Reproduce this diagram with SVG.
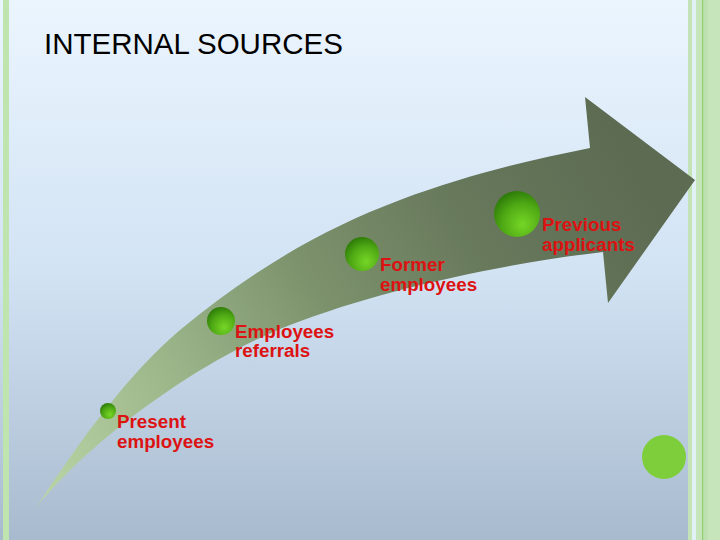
<svg xmlns="http://www.w3.org/2000/svg" width="720" height="540" viewBox="0 0 720 540">
  <defs>
    <linearGradient id="bg" x1="0" y1="0" x2="0" y2="1">
      <stop offset="0" stop-color="#ebf5fe"/>
      <stop offset="0.5" stop-color="#d2e3f4"/>
      <stop offset="1" stop-color="#a8bbce"/>
    </linearGradient>
    <linearGradient id="arrowGrad" gradientUnits="userSpaceOnUse" x1="40" y1="500" x2="640" y2="170">
      <stop offset="0" stop-color="#b9d4a5"/>
      <stop offset="0.25" stop-color="#9db78b"/>
      <stop offset="0.5" stop-color="#7c926c"/>
      <stop offset="0.75" stop-color="#67785b"/>
      <stop offset="1" stop-color="#5c6b52"/>
    </linearGradient>
    <radialGradient id="ball" cx="0.62" cy="0.72" r="0.75">
      <stop offset="0" stop-color="#76d626"/>
      <stop offset="0.6" stop-color="#4ea814"/>
      <stop offset="1" stop-color="#2c7a08"/>
    </radialGradient>
    <style>
      .lbl { font-family: "Liberation Sans", Arial, sans-serif; font-weight: bold; font-size: 18.8px; fill: #dd1212; }
      .title { font-family: "Liberation Sans", Arial, sans-serif; font-size: 29.5px; fill: #000000; }
      .ball { fill: url(#ball); }
    </style>
  </defs>

  <!-- background -->
  <rect x="0" y="0" width="720" height="540" fill="url(#bg)"/>
  <rect x="3" y="0" width="6" height="540" fill="#c0e4ae"/>
  <rect x="688" y="0" width="4" height="540" fill="#c4e4b8"/>
  <rect x="692" y="0" width="4" height="540" fill="#e2f1f6"/>
  <rect x="696" y="0" width="24" height="540" fill="#c6e5bb"/>
  <rect x="702" y="0" width="1.5" height="540" fill="#8fcf6f"/>
  <rect x="703.5" y="0" width="4" height="540" fill="#bde0b0"/>

  <text class="title" x="44" y="54">INTERNAL SOURCES</text>

  <g id="connectors">
    <path id="arrow" fill="url(#arrowGrad)" d="M36,508 C80,440 130,372 180,330 C250,272 320,230 400,200 C470,174 530,160 590,148 L585,97 L695,180 L608,303 L603,252 C500,264 380,290 290,325 C200,360 90,440 36,508 Z"/>
  </g>

  <g id="node-present">
    <circle class="ball" cx="108" cy="411" r="8"/>
    <text class="lbl" x="117" y="428">Present</text>
    <text class="lbl" x="117" y="448">employees</text>
  </g>

  <g id="node-referrals">
    <circle class="ball" cx="221" cy="321" r="14"/>
    <text class="lbl" x="235" y="338">Employees</text>
    <text class="lbl" x="235" y="357">referrals</text>
  </g>

  <g id="node-former">
    <circle class="ball" cx="362" cy="254" r="17"/>
    <text class="lbl" x="380" y="271">Former</text>
    <text class="lbl" x="380" y="291">employees</text>
  </g>

  <g id="node-previous">
    <circle class="ball" cx="517" cy="214" r="23"/>
    <text class="lbl" x="542" y="231">Previous</text>
    <text class="lbl" x="542" y="251">applicants</text>
  </g>

  <g id="node-dot">
    <circle cx="664" cy="457" r="22" fill="#7dce3a"/>
  </g>
</svg>
